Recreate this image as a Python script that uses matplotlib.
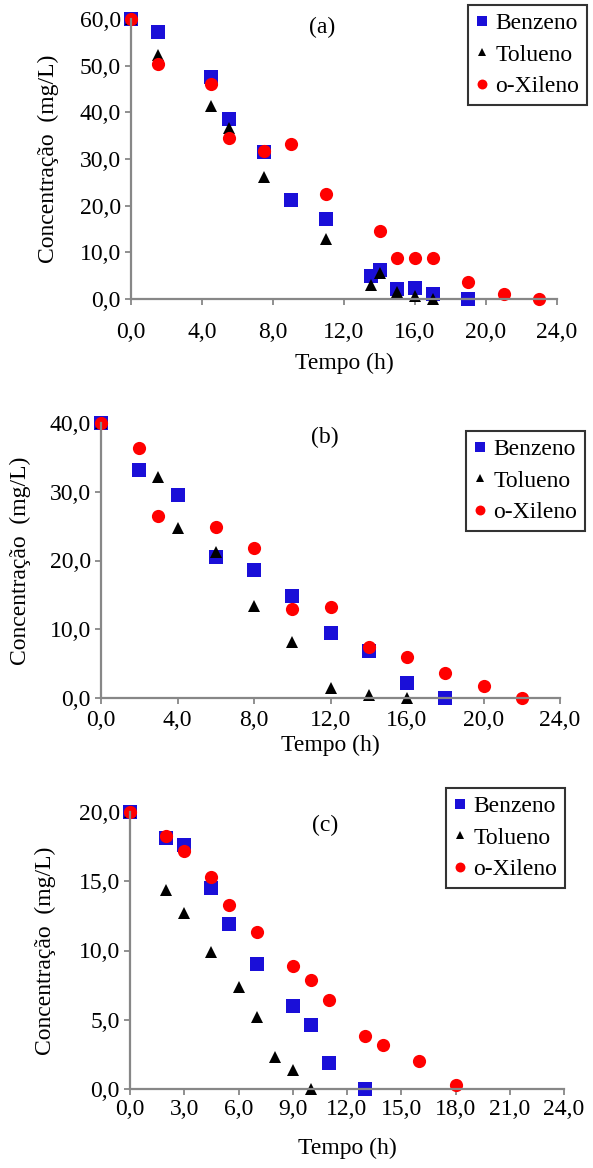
import numpy as np
import matplotlib.pyplot as plt

plt.rcParams['font.family'] = 'Liberation Serif'
plt.rcParams['font.size'] = 17

# ---- panel (a) ----
a_benz_t = [0, 1.5, 4.5, 5.5, 7.5, 9, 11, 13.5, 14, 15, 16, 17, 19]
a_benz_c = [60.0, 57.3, 47.5, 38.5, 31.5, 21.2, 17.1, 4.9, 6.3, 2.1, 2.4, 1.1, 0.0]
a_tol_t = [0, 1.5, 4.5, 5.5, 7.5, 11, 13.5, 14, 15, 16, 17]
a_tol_c = [60.0, 52.2, 41.4, 36.6, 26.2, 12.9, 3.1, 5.6, 1.6, 0.7, 0.0]
a_xil_t = [0, 1.5, 4.5, 5.5, 7.5, 9, 11, 14, 15, 16, 17, 19, 21, 23]
a_xil_c = [60.0, 50.4, 46.1, 34.5, 31.8, 33.2, 22.6, 14.6, 8.7, 8.7, 8.7, 3.6, 1.1, 0.1]

# ---- panel (b) ----
b_benz_t = [0, 2, 4, 6, 8, 10, 12, 14, 16, 18]
b_benz_c = [40.0, 33.1, 29.5, 20.5, 18.6, 14.8, 9.5, 6.9, 2.2, 0.0]
b_tol_t = [0, 3, 4, 6, 8, 10, 12, 14, 16]
b_tol_c = [40.0, 32.1, 24.7, 21.2, 13.4, 8.2, 1.4, 0.5, 0.0]
b_xil_t = [0, 2, 3, 6, 8, 10, 12, 14, 16, 18, 20, 22]
b_xil_c = [40.0, 36.4, 26.5, 24.9, 21.8, 13.0, 13.3, 7.4, 5.9, 3.7, 1.7, 0.0]

# ---- panel (c) ----
c_benz_t = [0, 2, 3, 4.5, 5.5, 7, 9, 10, 11, 13]
c_benz_c = [20.0, 18.1, 17.6, 14.5, 11.9, 9.0, 6.0, 4.6, 1.9, 0.0]
c_tol_t = [0, 2, 3, 4.5, 6, 7, 8, 9, 10]
c_tol_c = [20.0, 14.4, 12.7, 9.9, 7.4, 5.2, 2.3, 1.4, 0.0]
c_xil_t = [0, 2, 3, 4.5, 5.5, 7, 9, 10, 11, 13, 14, 16, 18]
c_xil_c = [20.0, 18.3, 17.2, 15.3, 13.3, 11.3, 8.9, 7.9, 6.4, 3.8, 3.2, 2.0, 0.3]

W, H = 593, 1168
fig = plt.figure(figsize=(W / 100, H / 100), dpi=100)

def px_axes(x0, x1, ytop, ybot):
    return fig.add_axes([x0 / W, 1 - ybot / H, (x1 - x0) / W, (ybot - ytop) / H])

def fmt(v):
    return f'{v:.1f}'.replace('.', ',')

panels = [
    dict(box=(131, 557, 19, 299), ymax=60, ystep=10, xstep=4, xpad=12,
         data=[(a_benz_t, a_benz_c), (a_tol_t, a_tol_c), (a_xil_t, a_xil_c)],
         tag='(a)', tagpos=(322, 27), leg=(468, 5), ylab_x=48, xlab_y=363),
    dict(box=(101, 560, 423, 698), ymax=40, ystep=10, xstep=4, xpad=4,
         data=[(b_benz_t, b_benz_c), (b_tol_t, b_tol_c), (b_xil_t, b_xil_c)],
         tag='(b)', tagpos=(325, 437), leg=(466, 431), ylab_x=20, xlab_y=745),
    dict(box=(130, 564, 812, 1089), ymax=20, ystep=5, xstep=3, xpad=3,
         data=[(c_benz_t, c_benz_c), (c_tol_t, c_tol_c), (c_xil_t, c_xil_c)],
         tag='(c)', tagpos=(325, 825), leg=(446, 788), ylab_x=45, xlab_y=1148),
]

names = ['Benzeno', 'Tolueno', 'o-Xileno']
styles = [dict(marker='s', color='#1a0fd8', ms=9.5),
          dict(marker='^', color='black', ms=8.5),
          dict(marker='o', color='#ff0000', ms=9.5)]
gray = '#878787'

for p in panels:
    x0, x1, yt, yb = p['box']
    ax = px_axes(x0, x1, yt, yb)
    for (t, c), name, st in zip(p['data'], names, styles):
        ax.plot(t, c, linestyle='none', marker=st['marker'], color=st['color'],
                markersize=st['ms'], markeredgewidth=0, label=name, clip_on=False)
    ax.set_xlim(0, 24)
    ax.set_ylim(0, p['ymax'])
    xt = np.arange(0, 24.01, p['xstep'])
    yt_ = np.arange(0, p['ymax'] + 0.01, p['ystep'])
    ax.set_xticks(xt)
    ax.set_xticklabels([fmt(v) for v in xt])
    ax.set_yticks(yt_)
    ax.set_yticklabels([fmt(v) for v in yt_])
    for s in ['top', 'right']:
        ax.spines[s].set_visible(False)
    for s in ['left', 'bottom']:
        ax.spines[s].set_color(gray)
        ax.spines[s].set_linewidth(1.6)
    ax.tick_params(direction='out', length=4.3, width=1.3, color=gray, labelsize=17)
    ax.tick_params(axis='y', pad=3)
    ax.tick_params(axis='x', pad=p['xpad'])
    ax.set_xlabel('Tempo (h)', fontsize=17)
    ax.set_ylabel('Concentração  (mg/L)', fontsize=17)
    ax.yaxis.set_label_coords((p['ylab_x'] - x0) / (x1 - x0), 0.5)
    ax.xaxis.set_label_coords(0.5, -(p['xlab_y'] - yb) / (yb - yt))
    ax.xaxis.label.set_va('center')
    ax.yaxis.label.set_va('center')
    fig.text(p['tagpos'][0] / W, 1 - p['tagpos'][1] / H, p['tag'], ha='center', va='center', fontsize=17)
    lx, ly = p['leg']
    leg = ax.legend(loc='upper left', bbox_to_anchor=(lx / W, 1 - ly / H),
                    bbox_transform=fig.transFigure, borderaxespad=0, frameon=True,
                    fancybox=False, edgecolor='black', handlelength=0.55, handletextpad=0.3,
                    markerscale=0.75, fontsize=17, labelspacing=0.42, borderpad=0.32)
    leg.get_frame().set_linewidth(1.5)

fig.savefig('out.png', dpi=100)
